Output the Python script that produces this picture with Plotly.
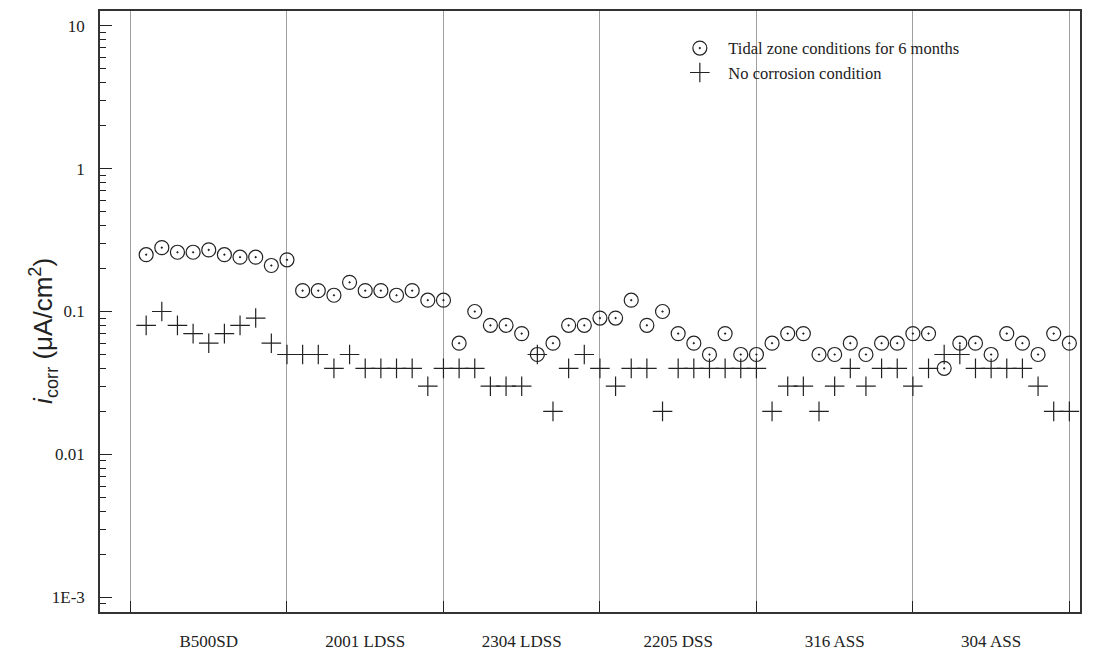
import plotly.graph_objects as go

# Steel grades, 10 specimens each
grades = ["B500SD", "2001 LDSS", "2304 LDSS", "2205 DSS", "316 ASS", "304 ASS"]
specimen = list(range(1, 61))

# Corrosion current density, µA/cm²
tidal_6_months = [
    0.25, 0.28, 0.26, 0.26, 0.27, 0.25, 0.24, 0.24, 0.21, 0.23,
    0.14, 0.14, 0.13, 0.16, 0.14, 0.14, 0.13, 0.14, 0.12, 0.12,
    0.06, 0.10, 0.08, 0.08, 0.07, 0.05, 0.06, 0.08, 0.08, 0.09,
    0.09, 0.12, 0.08, 0.10, 0.07, 0.06, 0.05, 0.07, 0.05, 0.05,
    0.06, 0.07, 0.07, 0.05, 0.05, 0.06, 0.05, 0.06, 0.06, 0.07,
    0.07, 0.04, 0.06, 0.06, 0.05, 0.07, 0.06, 0.05, 0.07, 0.06,
]
no_corrosion = [
    0.08, 0.10, 0.08, 0.07, 0.06, 0.07, 0.08, 0.09, 0.06, 0.05,
    0.05, 0.05, 0.04, 0.05, 0.04, 0.04, 0.04, 0.04, 0.03, 0.04,
    0.04, 0.04, 0.03, 0.03, 0.03, 0.05, 0.02, 0.04, 0.05, 0.04,
    0.03, 0.04, 0.04, 0.02, 0.04, 0.04, 0.04, 0.04, 0.04, 0.04,
    0.02, 0.03, 0.03, 0.02, 0.03, 0.04, 0.03, 0.04, 0.04, 0.03,
    0.04, 0.05, 0.05, 0.04, 0.04, 0.04, 0.04, 0.03, 0.02, 0.02,
]

y_major = [0.001, 0.01, 0.1, 1, 10]
y_major_text = ["1E-3", "0.01", "0.1", "1", "10"]

group_size = 10
boundaries = [i * group_size for i in range(len(grades) + 1)]
centers = [i * group_size + group_size / 2 for i in range(len(grades))]
y_minor = [0.0009] + [k * 10.0 ** e for e in range(-3, 1) for k in range(2, 10)]

SERIF = "Liberation Serif"
SANS = "Liberation Sans"
INK = "#222222"

fig = go.Figure()
fig.add_trace(go.Scatter(
    x=specimen, y=tidal_6_months, mode="markers",
    name="Tidal zone conditions for 6 months",
    marker=dict(symbol="circle-open-dot", size=14, color=INK,
                line=dict(color=INK, width=1.2)),
))
fig.add_trace(go.Scatter(
    x=specimen, y=no_corrosion, mode="markers",
    name="No corrosion condition",
    marker=dict(symbol="cross-thin-open", size=14, color=INK,
                line=dict(color=INK, width=1.2)),
))

fig.update_layout(
    width=1093, height=660,
    margin=dict(l=100, r=13, t=9, b=46),
    paper_bgcolor="white", plot_bgcolor="white",
    font=dict(family=SERIF, size=17, color=INK),
    showlegend=True,
    legend=dict(x=0.583, y=0.967, xanchor="left", yanchor="top",
                bgcolor="rgba(0,0,0,0)",
                font=dict(family=SERIF, size=16.5, color=INK),
                itemwidth=47),
    xaxis=dict(
        range=[-1.95, 60.68],
        tickvals=centers, ticktext=grades, ticks="",
        ticklabelstandoff=13,
        showgrid=False, zeroline=False,
        showline=True, linecolor="#333333", linewidth=1.5, mirror=True,
        tickfont=dict(family=SERIF, size=17, color=INK),
        minor=dict(tickvals=boundaries, ticks="inside", ticklen=11,
                   tickcolor="#222222", tickwidth=1.2,
                   showgrid=True, gridcolor="#a0a0a0", gridwidth=1),
    ),
    yaxis=dict(
        type="log", range=[-3.104, 1.104],
        tickvals=y_major, ticktext=y_major_text,
        ticks="inside", ticklen=12, tickwidth=1.2, tickcolor="#222222",
        ticklabelstandoff=10,
        showgrid=False, zeroline=False,
        showline=True, linecolor="#333333", linewidth=1.5, mirror=True,
        tickfont=dict(family=SERIF, size=17, color=INK),
        minor=dict(tickvals=y_minor, ticks="inside", ticklen=6,
                   tickcolor="#222222", tickwidth=1, showgrid=False),
    ),
    annotations=[dict(
        text="<i>i</i><sub>corr</sub> (μA/cm<sup>2</sup>)",
        xref="paper", yref="paper", x=-0.058, y=0.468,
        xanchor="center", yanchor="middle", textangle=-90, showarrow=False,
        font=dict(family=SANS, size=26, color=INK),
    )],
)

fig.write_html("out.html")
